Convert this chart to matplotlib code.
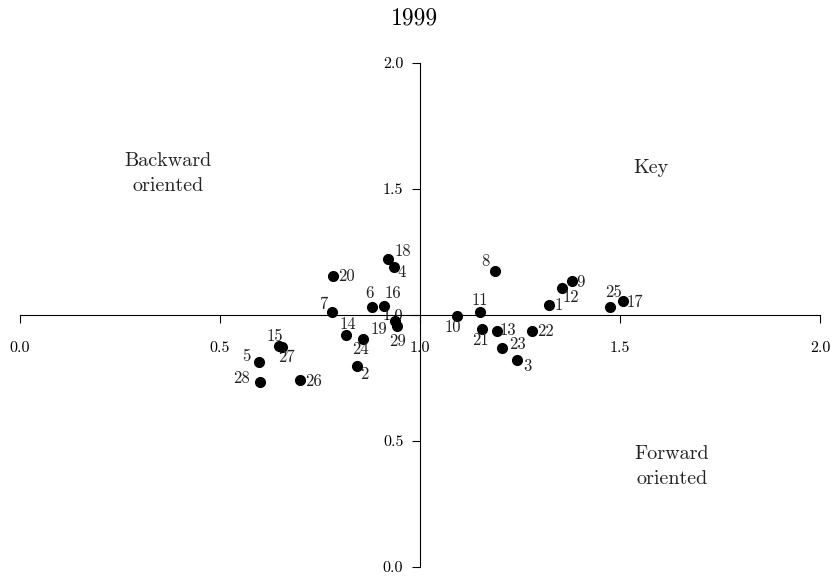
import numpy as np
import matplotlib
matplotlib.use("Agg")
import matplotlib.pyplot as plt

# Computer Modern look
plt.rcParams['font.family'] = ['cmr10', 'DejaVu Serif']
plt.rcParams['mathtext.fontset'] = 'cm'
plt.rcParams['axes.formatter.use_mathtext'] = True

# data
labels = [str(i) for i in range(1, 30)]
x_vals = [1.322, 0.843, 1.242, 0.936, 0.598, 0.881, 0.781, 1.188, 1.379, 1.092,
          1.151, 1.356, 1.192, 0.815, 0.648, 0.910, 1.507, 0.921, 0.938, 0.782,
          1.156, 1.280, 1.205, 0.858, 1.474, 0.699, 0.654, 0.599, 0.943]
y_vals = [1.041, 0.799, 0.820, 1.192, 0.812, 1.033, 1.011, 1.173, 1.135, 0.996,
          1.013, 1.106, 0.935, 0.921, 0.877, 1.036, 1.056, 1.221, 0.977, 1.155,
          0.944, 0.937, 0.870, 0.906, 1.031, 0.741, 0.872, 0.735, 0.956]
tick_vals = [0.0, 0.5, 1.0, 1.5, 2.0]
tick_labels = ['0.0', '0.5', '1.0', '1.5', '2.0']

# label offsets in pixels (dx right, dy down) - layout only
offsets = [(10, 1), (7, 9), (11, 6), (7, 6), (-13, -6), (-3, -13), (-9, -8),
           (-10, -10), (9, 1), (-4, 11), (-1, -11), (8, 9), (11, -1), (2, -11),
           (-4, -10), (9, -13), (12, 1), (14, -8), (-16, 9), (14, 0), (-2, 11),
           (14, 0), (15, -3), (-3, 11), (4, -15), (14, 1), (5, 10), (-18, -3),
           (0, 15)]

fig = plt.figure(figsize=(8.34, 5.8), dpi=100)
ax = fig.add_axes([20/834, 13/580, 800/834, 504/580])

ax.plot(x_vals, y_vals, 'o', color='black', markersize=7)
for lab, x, y, (dx, dy) in zip(labels, x_vals, y_vals, offsets):
    ax.annotate(lab, (x, y), xytext=(dx, -dy), textcoords='offset pixels',
                ha='center', va='center', fontsize=12, color='#222222')

ax.set_xlim(0, 2)
ax.set_ylim(0, 2)
ax.spines['left'].set_position(('data', 1.0))
ax.spines['bottom'].set_position(('data', 1.0))
ax.spines['top'].set_visible(False)
ax.spines['right'].set_visible(False)
ax.set_xticks(tick_vals)
ax.set_xticklabels(tick_labels)
ax.set_yticks(tick_vals)
ax.set_yticklabels(tick_labels)
ax.tick_params(axis='x', direction='out', length=6, pad=13, labelsize=11.5)
ax.tick_params(axis='y', direction='out', length=6, pad=6, labelsize=11.5)
ax.set_facecolor('none')

ax.text(0.37, 1.563, 'Backward\noriented', ha='center', va='center',
        fontsize=14.5, linespacing=1.5, color='#222222')
ax.text(1.578, 1.583, 'Key', ha='center', va='center', fontsize=14.5,
        color='#222222')
ax.text(1.63, 0.40, 'Forward\noriented', ha='center', va='center',
        fontsize=14.5, linespacing=1.5, color='#222222')

fig.text(415/834, 1 - 18/580, '1999', ha='center', va='center', fontsize=17)

fig.savefig('out.png', dpi=100)
